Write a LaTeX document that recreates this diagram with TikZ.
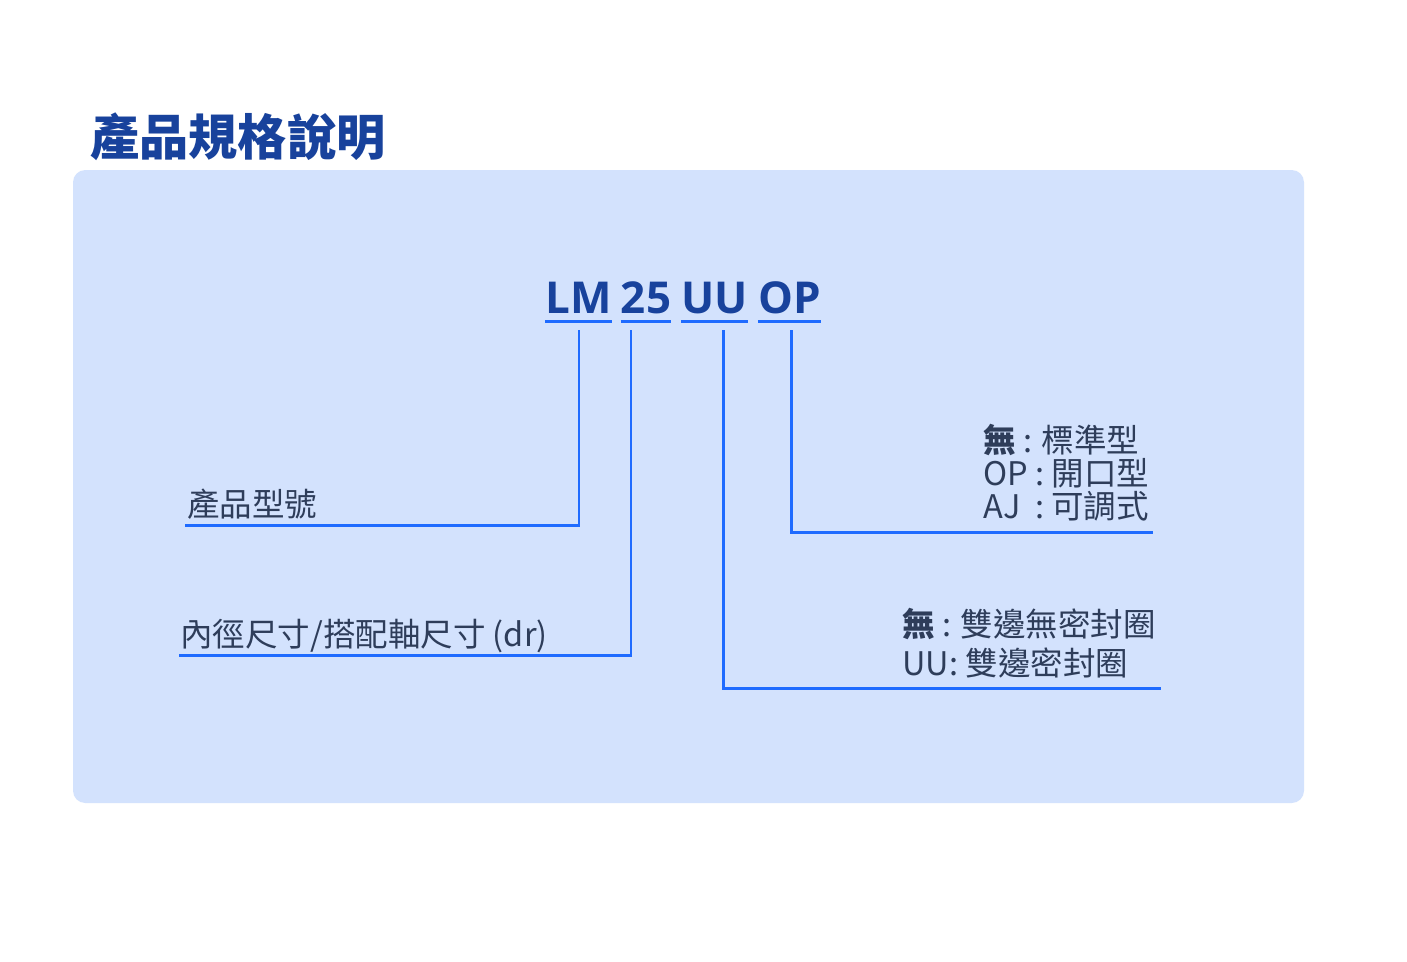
\documentclass[tikz,border=0pt]{standalone}
\usepackage{fontspec}
\setmainfont{Open Sans}
\newfontfamily\cjk{Noto Sans CJK TC}
\usepackage{tikz}

\definecolor{panelblue}{RGB}{211,226,253}
\definecolor{headblue}{RGB}{24,66,156}
\definecolor{linkblue}{RGB}{31,107,255}
\definecolor{labelgray}{RGB}{46,61,90}

\begin{document}
\begin{tikzpicture}[x=0.02cm,y=-0.02cm,
    code/.style={font=\fontsize{25}{28}\selectfont\bfseries, text=headblue, inner sep=0pt, anchor=base},
    lbl/.style={font=\cjk\fontsize{18.5}{22}\selectfont, text=labelgray, inner sep=0pt, anchor=base west},
    uline/.style={linkblue, line width=1.7pt},
    link/.style={linkblue, line width=1.7pt}]
    \useasboundingbox (0,0) rectangle (1407,961);
    \fill[white] (0,0) rectangle (1407,961);

    \node[font=\cjk\bfseries\fontsize{28}{32}\selectfont, text=headblue, anchor=west, inner sep=0pt] (title) at (90,137) {產品規格說明};
    \fill[panelblue, rounded corners=7pt] (73,170) rectangle (1304,803);

    \node[code] (lm) at (578.5,313) {LM};
    \node[code] (sz) at (646,313) {25};
    \node[code] (uu) at (714.5,313) {UU};
    \node[code] (op) at (789.5,313) {OP};
    \foreach \p in {lm,sz,uu,op}{
        \draw[uline] ([yshift=-4.5pt]\p.south west) -- ([yshift=-4.5pt]\p.south east);
    }

    \coordinate (lmtop) at (579,330);
    \coordinate (sztop) at (631,330);
    \coordinate (uutop) at (723,330);
    \coordinate (optop) at (791,330);
    \coordinate (lmend) at (185,525);
    \coordinate (szend) at (179,655);
    \coordinate (uuend) at (1161,688);
    \coordinate (opend) at (1153,532);

    \draw[link] (lmtop) |- (lmend);
    \draw[link] (sztop) |- (szend);
    \draw[link] (uutop) |- (uuend);
    \draw[link] (optop) |- (opend);

    \node[lbl] (model) at (187,516) {產品型號};
    \node[lbl] (bore) at (180,646) {內徑尺寸/搭配軸尺寸 (dr)};

    \node[lbl] (opa) at (983,452) {\textbf{無} : 標準型};
    \node[lbl] (opb) at (983,485) {OP : 開口型};
    \node[lbl] (opc) at (983,518) {AJ\ \ : 可調式};

    \node[lbl] (uua) at (902,636) {\textbf{無} : 雙邊無密封圈};
    \node[lbl] (uub) at (902,675) {UU: 雙邊密封圈};
\end{tikzpicture}
\end{document}
